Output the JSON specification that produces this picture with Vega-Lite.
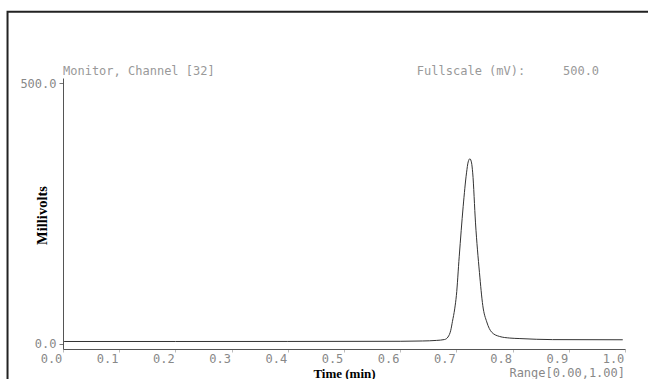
{
  "$schema": "https://vega.github.io/schema/vega-lite/v6.json",
  "width": 562,
  "height": 271,
  "autosize": "none",
  "padding": {"left": 63, "top": 78, "right": 23, "bottom": 30},
  "background": "white",
  "config": {"view": {"stroke": null}},
  "datasets": {
    "signal": [
      {"t": 0.002, "mv": 4.4}, {"t": 0.2, "mv": 4.4}, {"t": 0.4, "mv": 4.5}, {"t": 0.6, "mv": 4.8},
      {"t": 0.64, "mv": 5.4}, {"t": 0.665, "mv": 6.5}, {"t": 0.679, "mv": 8.2}, {"t": 0.685, "mv": 13},
      {"t": 0.69, "mv": 26}, {"t": 0.693, "mv": 43}, {"t": 0.697, "mv": 67}, {"t": 0.7, "mv": 93},
      {"t": 0.705, "mv": 167}, {"t": 0.712, "mv": 263}, {"t": 0.718, "mv": 328}, {"t": 0.721, "mv": 349},
      {"t": 0.724, "mv": 355}, {"t": 0.727, "mv": 347}, {"t": 0.729, "mv": 328}, {"t": 0.734, "mv": 232},
      {"t": 0.741, "mv": 137}, {"t": 0.747, "mv": 73}, {"t": 0.754, "mv": 42}, {"t": 0.763, "mv": 22},
      {"t": 0.777, "mv": 14}, {"t": 0.795, "mv": 11}, {"t": 0.813, "mv": 10}, {"t": 0.871, "mv": 8},
      {"t": 0.996, "mv": 7.7}
    ],
    "notes": [
      {"label": "Monitor, Channel [32]", "t": 0, "mv": 510},
      {"label": "Fullscale (mV):", "t": 0.6296, "mv": 510},
      {"label": "500.0", "t": 0.8896, "mv": 510}
    ]
  },
  "layer": [
    {
      "data": {"name": "signal"},
      "mark": {"type": "line", "interpolate": "monotone", "color": "#333333", "strokeWidth": 1},
      "encoding": {
        "x": {
          "field": "t", "type": "quantitative",
          "scale": {"domain": [0, 1], "nice": false, "zero": false},
          "axis": {
            "title": "Time (min)", "values": [0, 0.1, 0.2, 0.3, 0.4, 0.5, 0.6, 0.7, 0.8, 0.9, 1.0],
            "format": ".1f", "labelFont": "DejaVu Sans Mono", "labelFontSize": 12, "labelColor": "#888888",
            "labelOffset": -12, "labelPadding": 1, "labelFlush": false, "labelOverlap": false,
            "tickSize": 3, "tickColor": "#bbbbbb", "domainColor": "#555555", "domainWidth": 1, "grid": false,
            "titleFont": "Liberation Serif", "titleFontWeight": "bold", "titleFontSize": 13, "titleColor": "#000000",
            "titleY": 24, "titleBaseline": "middle"
          }
        },
        "y": {
          "field": "mv", "type": "quantitative",
          "scale": {"domain": [-10, 510], "nice": false, "zero": false},
          "axis": {
            "title": "Millivolts", "values": [0, 500], "format": ".1f",
            "labelFont": "DejaVu Sans Mono", "labelFontSize": 12, "labelColor": "#888888", "labelPadding": 3,
            "tickSize": 4, "tickColor": "#777777", "domainColor": "#555555", "domainWidth": 1, "grid": false,
            "titleFont": "Liberation Serif", "titleFontWeight": "bold", "titleFontSize": 14.5, "titleColor": "#000000",
            "titleX": -21, "titleY": 137, "titleBaseline": "middle", "titleAngle": -90
          }
        }
      }
    },
    {
      "data": {"name": "notes"},
      "mark": {"type": "text", "font": "DejaVu Sans Mono", "fontSize": 12, "color": "#999999", "align": "left", "baseline": "alphabetic", "dy": -3},
      "encoding": {
        "x": {"field": "t", "type": "quantitative"},
        "y": {"field": "mv", "type": "quantitative"},
        "text": {"field": "label"}
      }
    },
    {
      "data": {"values": [{"label": "Range[0.00,1.00]", "t": 1, "mv": -10}]},
      "mark": {"type": "text", "font": "DejaVu Sans Mono", "fontSize": 12, "color": "#888888", "align": "right", "baseline": "middle", "dy": 24},
      "encoding": {
        "x": {"field": "t", "type": "quantitative"},
        "y": {"field": "mv", "type": "quantitative"},
        "text": {"field": "label"}
      }
    },
    {
      "data": {"values": [{"x1": -0.0987, "x2": 1.2, "y1": 637, "y2": -200}]},
      "mark": {"type": "rect", "fill": null, "stroke": "#222222", "strokeWidth": 2, "clip": false},
      "encoding": {
        "x": {"field": "x1", "type": "quantitative"},
        "x2": {"field": "x2"},
        "y": {"field": "y1", "type": "quantitative"},
        "y2": {"field": "y2"}
      }
    }
  ]
}
